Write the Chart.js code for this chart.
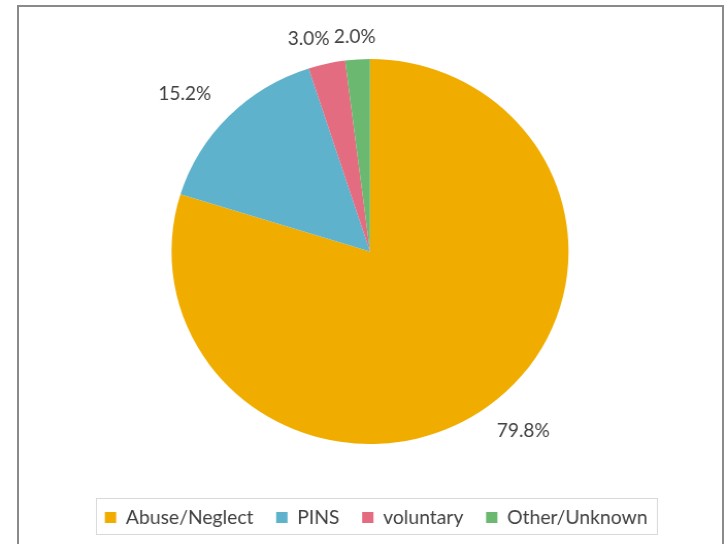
<!DOCTYPE html>
<html lang="en">
<head>
    <meta charset="UTF-8">
    <title>Placement reasons</title>
    <script src="https://cdn.jsdelivr.net/npm/chart.js"></script>
    <style>
        body { margin: 0; background: #fff; overflow: hidden; }
        #frame { position: absolute; left: 17px; top: 5px; width: 703px; height: 600px; border: 2px solid #8a8a8a; }
        /* the source picture is stretched a little horizontally */
        #wrap { position: absolute; left: 0; top: 0; width: 705px; height: 544px; transform: scaleX(1.0312); transform-origin: 0 0; }
    </style>
</head>
<body>
    <div id="frame"></div>
    <div id="wrap">
        <canvas id="myChart" width="705" height="544"></canvas>
    </div>

    <script>
        // Data
        var categories = ['Abuse/Neglect', 'PINS', 'voluntary', 'Other/Unknown'];
        var shares = [79.8, 15.2, 3.0, 2.0];
        var colors = ['#F0AD00', '#5EB2CB', '#E46C80', '#6BB970'];

        // percentage labels just outside each slice
        var pctLabels = {
            id: 'pctLabels',
            afterDatasetsDraw: function (chart) {
                var ctx = chart.ctx;
                var arcs = chart.getDatasetMeta(0).data;
                ctx.save();
                ctx.font = '18.5px Lato';
                ctx.fillStyle = '#404040';
                ctx.textAlign = 'center';
                ctx.textBaseline = 'middle';
                var placed = [];
                // last slice first so the small ones push each other left
                for (var i = arcs.length - 1; i >= 0; i--) {
                    var p = arcs[i].getProps(['x', 'y', 'startAngle', 'endAngle', 'outerRadius'], true);
                    var mid = (p.startAngle + p.endAngle) / 2;
                    var c = Math.cos(mid), s = Math.sin(mid);
                    var txt = shares[i].toFixed(1) + '%';
                    var w = ctx.measureText(txt).width, h = 16;
                    var d = p.outerRadius + 14 + 14 * Math.abs(c);
                    var cx = p.x + d * c + c * w * 0.7;
                    var cy = p.y + d * s + s * h / 2;
                    placed.forEach(function (b) {
                        if (Math.abs(cy - b.y) < h && Math.abs(cx - b.x) < (w + b.w) / 2 + 4) {
                            cx = b.x - (w + b.w) / 2 - 4;
                        }
                    });
                    placed.push({ x: cx, y: cy, w: w });
                    ctx.fillText(txt, cx, cy);
                }
                ctx.restore();
            }
        };

        // nudge the legend and draw the thin box round it
        var legendBox = {
            id: 'legendBox',
            afterLayout: function (chart) {
                chart.legend.left += 6;
                chart.legend.right += 6;
            },
            afterDraw: function (chart) {
                var hb = chart.legend.legendHitBoxes;
                if (!hb || !hb.length) return;
                var last = hb[hb.length - 1];
                var x0 = Math.round(hb[0].left - 9) + 0.5;
                var x1 = Math.round(last.left + last.width + 9.5) + 0.5;
                var cy = hb[0].top + hb[0].height / 2;
                var y0 = Math.round(cy - 19.5) + 0.5;
                var ctx = chart.ctx;
                ctx.save();
                ctx.strokeStyle = '#d9d9d9';
                ctx.lineWidth = 1;
                ctx.strokeRect(x0, y0, x1 - x0, 36);
                ctx.restore();
            }
        };

        var ctx = document.getElementById('myChart').getContext('2d');

        var myChart = new Chart(ctx, {
            type: 'pie',
            data: {
                labels: categories,
                datasets: [{
                    data: shares,
                    backgroundColor: colors,
                    borderWidth: 0,
                    hoverBorderWidth: 0,
                    radius: 192.5
                }]
            },
            options: {
                responsive: false,
                animation: false,
                layout: {
                    padding: { left: 20, right: 7.4, top: 16.9, bottom: 7.1 }
                },
                plugins: {
                    tooltip: { enabled: false },
                    legend: {
                        position: 'bottom',
                        labels: {
                            boxWidth: 11,
                            boxHeight: 11,
                            padding: 22,
                            color: '#404040',
                            font: { family: 'Lato', size: 18.75 }
                        }
                    }
                }
            },
            plugins: [pctLabels, legendBox]
        });
    </script>
</body>
</html>
